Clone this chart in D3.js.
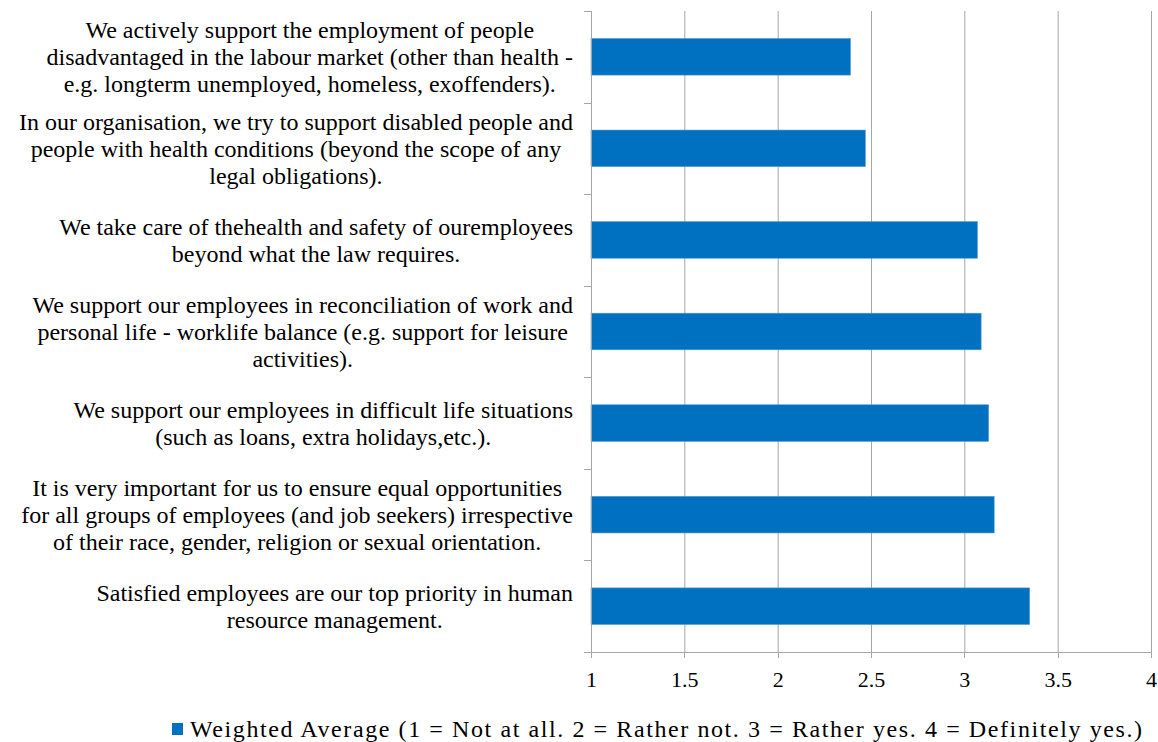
<!DOCTYPE html>
<html lang="en">
<head>
<meta charset="UTF-8">
<title>Weighted Average</title>
<script src="https://d3js.org/d3.v7.min.js"></script>
<style>
    body { margin: 0; background: #fff; }
    .grid line { stroke: #a6a6a6; stroke-width: 1; }
    .grid path { display: none; }
    .axis path, .axis line { stroke: #a6a6a6; stroke-width: 1; shape-rendering: crispEdges; }
</style>
</head>
<body>
<svg></svg>
<script>
    // statements, top to bottom
    var categories = [
        ["We actively support the employment of people",
         "disadvantaged in the labour market (other than health -",
         "e.g. longterm unemployed, homeless, exoffenders)."],
        ["In our organisation, we try to support disabled people and",
         "people with health conditions (beyond the scope of any",
         "legal obligations)."],
        ["We take care of thehealth and safety of ouremployees",
         "beyond what the law requires."],
        ["We support our employees in reconciliation of work and",
         "personal life - worklife balance (e.g. support for leisure",
         "activities)."],
        ["We support our employees in difficult life situations",
         "(such as loans, extra holidays,etc.)."],
        ["It is very important for us to ensure equal opportunities",
         "for all groups of employees (and job seekers) irrespective",
         "of their race, gender, religion or sexual orientation."],
        ["Satisfied employees are our top priority in human",
         "resource management."]
    ];
    var values = [2.39, 2.47, 3.07, 3.09, 3.13, 3.16, 3.35];
    var xTicks = [1, 1.5, 2, 2.5, 3, 3.5, 4];
    var legendLabel = "Weighted Average (1 = Not at all. 2 = Rather not. 3 = Rather yes. 4 = Definitely yes.)";

    var w = 1158, h = 742;
    var plot = { left: 591, right: 1151, top: 11, bottom: 652 };
    var barColor = "#0070c0";
    var font = "'Liberation Serif', 'Times New Roman', serif";

    var svg = d3.select("svg").attr("width", w).attr("height", h);

    var x = d3.scaleLinear().domain([1, 4]).range([plot.left, plot.right]);
    var y = d3.scaleBand()
        .domain(d3.range(categories.length))
        .range([plot.top, plot.bottom])
        .paddingInner(0.6)
        .paddingOuter(0.3);

    // vertical gridlines
    svg.append("g")
        .attr("class", "grid")
        .attr("transform", "translate(0," + plot.bottom + ")")
        .call(d3.axisBottom(x).tickValues(xTicks).tickSize(-(plot.bottom - plot.top)).tickFormat(""));

    // bars
    svg.append("g").selectAll("rect")
        .data(values)
        .join("rect")
        .attr("x", x(1))
        .attr("y", (d, i) => y(i))
        .attr("width", d => x(d) - x(1))
        .attr("height", y.bandwidth())
        .attr("fill", barColor)
        .attr("stroke", "#5b9bd5")
        .attr("stroke-width", 0.6);

    // x axis
    var xAxis = svg.append("g")
        .attr("class", "axis")
        .attr("transform", "translate(0," + plot.bottom + ")")
        .call(d3.axisBottom(x).tickValues(xTicks).tickSize(6).tickPadding(13).tickFormat(d3.format("")));
    xAxis.select(".domain").attr("d", "M" + (plot.left - 7) + ",0.5H" + plot.right);
    xAxis.selectAll("text")
        .style("font-family", font)
        .style("font-size", "22px")
        .attr("fill", "#000");

    // y axis with ticks at category boundaries
    var yAxis = svg.append("g").attr("class", "axis");
    yAxis.append("line")
        .attr("x1", plot.left).attr("x2", plot.left)
        .attr("y1", plot.top).attr("y2", plot.bottom);
    var bounds = d3.range(categories.length + 1).map(i => plot.top + i * y.step());
    yAxis.selectAll("line.tick")
        .data(bounds)
        .join("line")
        .attr("class", "tick")
        .attr("x1", plot.left - 7).attr("x2", plot.left)
        .attr("y1", d => Math.round(d) + 0.5).attr("y2", d => Math.round(d) + 0.5);

    // category labels: lines centred on each other, widest line ends near the axis
    var lineH = 27, labelRight = 573;
    var labels = svg.append("g")
        .attr("text-anchor", "middle")
        .attr("fill", "#000");
    categories.forEach(function (lines, i) {
        var cy = y(i) + y.bandwidth() / 2;
        var t = labels.append("text")
            .style("font-family", font)
            .style("font-size", "24px")
            .attr("y", cy - (lines.length - 1) * lineH / 2);
        var spans = lines.map(function (ln, j) {
            return t.append("tspan").attr("dy", j === 0 ? "0.35em" : lineH).text(ln);
        });
        var maxW = d3.max(spans, s => s.node().getComputedTextLength());
        spans.forEach(s => s.attr("x", labelRight - maxW / 2));
    });

    // legend
    var legend = svg.append("g").attr("transform", "translate(172,723)");
    legend.append("rect").attr("width", 11).attr("height", 12).attr("fill", barColor);
    legend.append("text")
        .attr("x", 18).attr("y", 14)
        .style("font-family", font)
        .style("font-size", "24px")
        .attr("textLength", 952)
        .attr("lengthAdjust", "spacing")
        .text(legendLabel);
</script>
</body>
</html>
